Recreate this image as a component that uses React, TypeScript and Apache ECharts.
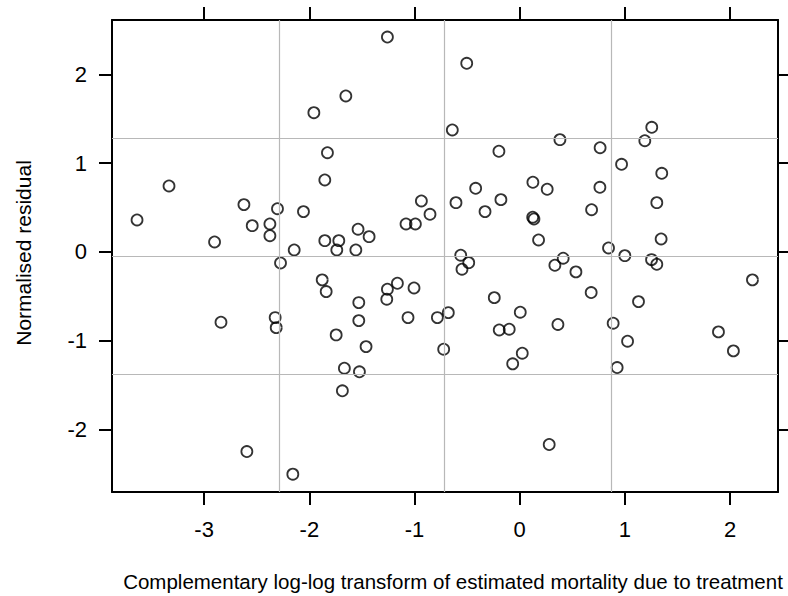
import React, { useEffect, useRef } from "react";
import * as echarts from "echarts";

// Complementary log-log transform (x) and normalised residual (y) for each study
const xValues = [
  -3.638, -3.334, -2.901, -2.84, -2.622, -2.594, -2.543, -2.375, -2.375, -2.303,
  -2.325, -2.315, -2.274, -2.157, -2.144, -2.056, -1.957, -1.878, -1.853, -1.853,
  -1.84, -1.828, -1.739, -1.745, -1.72, -1.686, -1.667, -1.653, -1.558, -1.537,
  -1.53, -1.53, -1.524, -1.461, -1.432, -1.258, -1.258, -1.264, -1.163, -1.081,
  -1.062, -1.005, -0.992, -0.935, -0.853, -0.783, -0.723, -0.679, -0.641, -0.606,
  -0.561, -0.549, -0.504, -0.485, -0.419, -0.33, -0.242, -0.198, -0.195, -0.179,
  -0.1, -0.067, 0.005, 0.024, 0.125, 0.123, 0.135, 0.179, 0.261, 0.28,
  0.334, 0.382, 0.363, 0.413, 0.534, 0.683, 0.679, 0.764, 0.762, 0.844,
  0.888, 0.926, 0.968, 0.999, 1.025, 1.129, 1.189, 1.255, 1.253, 1.303,
  1.303, 1.344, 1.35, 1.889, 2.031, 2.212,
];
const yValues = [
  0.359, 0.742, 0.111, -0.793, 0.532, -2.25, 0.295, 0.314, 0.182, 0.486,
  -0.741, -0.854, -0.125, -2.505, 0.021, 0.453, 1.568, -0.316, 0.81, 0.126,
  -0.448, 1.117, 0.021, -0.936, 0.126, -1.566, -1.311, 1.756, 0.021, 0.255,
  -0.572, -0.775, -1.352, -1.068, 0.171, 2.42, -0.421, -0.534, -0.354, 0.314,
  -0.741, -0.407, 0.314, 0.573, 0.423, -0.741, -1.097, -0.685, 1.373, 0.554,
  -0.038, -0.196, 2.124, -0.122, 0.716, 0.453, -0.516, 1.133, -0.88, 0.588,
  -0.872, -1.262, -0.68, -1.142, 0.784, 0.39, 0.37, 0.134, 0.705, -2.171,
  -0.151, 1.264, -0.818, -0.072, -0.226, 0.475, -0.459, 1.173, 0.727, 0.044,
  -0.804, -1.304, 0.986, -0.043, -1.007, -0.561, 1.252, 1.403, -0.088, -0.14,
  0.554, 0.145, 0.885, -0.902, -1.116, -0.316,
];

const xTickValues = [-3, -2, -1, 0, 1, 2];
const yTickValues = [-2, -1, 0, 1, 2];
const refLinesX = [-2.287, -0.717, 0.866];
const refLinesY = [1.278, -0.048, -1.38];
const xRange = [-3.876, 2.455];
const yRange = [-2.706, 2.612];

const xTitle =
  "Complementary log-log transform of estimated mortality due to treatment";
const yTitle = "Normalised residual";

const FONT = "'Liberation Sans', Arial, Helvetica, sans-serif";

export default function App() {
  const ref = useRef<HTMLDivElement>(null);

  useEffect(() => {
    if (!ref.current) return;
    const chart = echarts.init(ref.current, null, { renderer: "svg" });

    const lineStyle = { color: "#000", width: 2 };
    const makeX = (position: string, showLabel: boolean) => ({
      type: "value",
      position,
      min: xRange[0],
      max: xRange[1],
      axisLine: { show: true, onZero: false, lineStyle },
      axisTick: {
        show: true,
        inside: false,
        length: 13,
        lineStyle,
        customValues: xTickValues,
      },
      axisLabel: {
        show: showLabel,
        customValues: xTickValues,
        fontSize: 22,
        fontFamily: FONT,
        color: "#000",
        margin: 26,
      },
      splitLine: { show: false },
    });
    const makeY = (position: string, showLabel: boolean) => ({
      type: "value",
      position,
      min: yRange[0],
      max: yRange[1],
      axisLine: { show: true, onZero: false, lineStyle },
      axisTick: {
        show: true,
        inside: false,
        length: 13,
        lineStyle,
        customValues: yTickValues,
      },
      axisLabel: {
        show: showLabel,
        customValues: yTickValues,
        fontSize: 22,
        fontFamily: FONT,
        color: "#000",
        margin: 25,
      },
      splitLine: { show: false },
    });

    chart.setOption({
      animation: false,
      backgroundColor: "#fff",
      grid: { left: 112, right: 10, top: 20, bottom: 104, containLabel: false },
      xAxis: [makeX("bottom", true), makeX("top", false)],
      yAxis: [makeY("left", true), makeY("right", false)],
      series: [
        {
          type: "scatter",
          data: [],
          z: 1,
          silent: true,
          markLine: {
            silent: true,
            symbol: ["none", "none"],
            label: { show: false },
            lineStyle: { color: "#b8b8b8", type: "solid", width: 1.2 },
            data: [
              ...refLinesX.map((v) => ({ xAxis: v })),
              ...refLinesY.map((v) => ({ yAxis: v })),
            ],
          },
        },
        {
          type: "scatter",
          z: 3,
          symbol: "circle",
          symbolSize: 11,
          itemStyle: {
            color: "rgba(0,0,0,0)",
            borderColor: "#000",
            borderWidth: 1.8,
          },
          data: xValues.map((x, i) => [x, yValues[i]]),
        },
      ],
      graphic: [
        {
          type: "text",
          x: 453,
          y: 581,
          style: {
            text: xTitle,
            fontSize: 20.5,
            fontFamily: FONT,
            fill: "#000",
            textAlign: "center",
            textVerticalAlign: "middle",
          },
        },
        {
          type: "text",
          x: 23,
          y: 253,
          rotation: Math.PI / 2,
          style: {
            text: yTitle,
            fontSize: 21,
            fontFamily: FONT,
            fill: "#000",
            textAlign: "center",
            textVerticalAlign: "middle",
          },
        },
      ],
    });

    return () => chart.dispose();
  }, []);

  return (
    <div
      ref={ref}
      style={{ position: "absolute", left: 0, top: 0, width: 788, height: 596 }}
    />
  );
}
